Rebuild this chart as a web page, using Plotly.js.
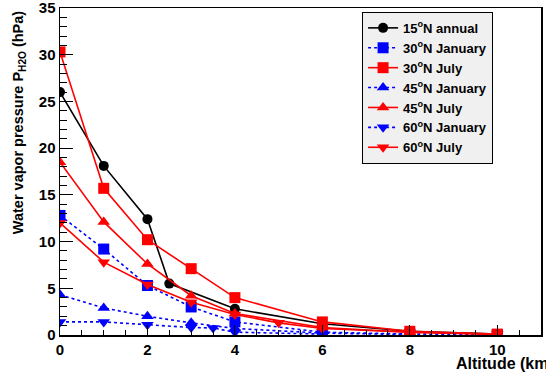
<!DOCTYPE html>
<html><head><meta charset="utf-8">
<script src="https://cdn.plot.ly/plotly-3.0.1.min.js"></script>
<style>html,body{margin:0;padding:0;background:#fff;overflow:hidden}#chart{width:546px;height:375px}</style>
</head><body><div id="chart"></div>
<script>
// Data
const x15Annual = [0, 1, 2, 2.5, 4, 6, 8, 10];
const y15Annual = [26.0, 18.1, 12.4, 5.5, 2.8, 1.2, 0.4, 0.1];

const x30Jan = [0, 1, 2, 3, 4, 6, 8, 10];
const y30Jan = [12.8, 9.2, 5.3, 3.0, 1.4, 0.3, 0.1, 0.05];

const x30Jul = [0, 1, 2, 3, 4, 6, 8, 10];
const y30Jul = [30.3, 15.7, 10.2, 7.1, 4.0, 1.4, 0.4, 0.1];

const x45Jan = [0, 1, 2, 3, 4, 6, 8];
const y45Jan = [4.3, 2.9, 2.0, 1.3, 0.7, 0.2, 0.05];

const x45Jul = [0, 1, 2, 3, 4, 6, 8, 10];
const y45Jul = [18.5, 12.1, 7.6, 4.2, 2.3, 0.8, 0.3, 0.05];

const x60Jan = [0, 1, 2, 3, 3.5, 4, 6];
const y60Jan = [1.4, 1.4, 1.1, 0.8, 0.75, 0.3, 0.1];

const x60Jul = [0, 1, 2, 3, 4, 5, 6, 8, 10];
const y60Jul = [12.0, 7.8, 5.4, 3.5, 2.2, 1.3, 0.7, 0.3, 0.1];

const names = ["15<sup>o</sup>N annual", "30<sup>o</sup>N January", "30<sup>o</sup>N July",
  "45<sup>o</sup>N January", "45<sup>o</sup>N July", "60<sup>o</sup>N January", "60<sup>o</sup>N July"];

const xTickVals = [0, 2, 4, 6, 8, 10];
const yTickVals = [0, 5, 10, 15, 20, 25, 30, 35];

const RED = "#ff0000", BLUE = "#0000ff", BLACK = "#000000";
function tr(x, y, name, color, symbol, size, dash) {
  return {x: x, y: y, name: name, type: "scatter", mode: "lines+markers",
    line: {color: color, width: 1.6, dash: dash},
    marker: {color: color, symbol: symbol, size: size}};
}
const dd = "3px,3px";
const data = [
  tr(x15Annual, y15Annual, names[0], BLACK, "circle", 10, "solid"),
  tr(x30Jan, y30Jan, names[1], BLUE, "square", 11, dd),
  tr(x30Jul, y30Jul, names[2], RED, "square", 11, "solid"),
  tr(x45Jan, y45Jan, names[3], BLUE, "triangle-up", 11, dd),
  tr(x45Jul, y45Jul, names[4], RED, "triangle-up", 11, "solid"),
  tr(x60Jan, y60Jan, names[5], BLUE, "triangle-down", 11, dd),
  tr(x60Jul, y60Jul, names[6], RED, "triangle-down", 11, "solid")
];

const F = "Liberation Sans, Arial, sans-serif";
const layout = {
  width: 546, height: 375,
  margin: {l: 60, r: 5, t: 8, b: 40, pad: 0},
  paper_bgcolor: "#fff", plot_bgcolor: "#fff",
  showlegend: true,
  font: {family: F, color: "#000", size: 14, weight: "bold"},
  xaxis: {range: [0, 11], showgrid: false, zeroline: false,
    showline: true, linecolor: "#000", linewidth: 1.5, mirror: true,
    ticks: "inside", ticklen: 10, tickcolor: "#000", tickwidth: 1,
    tickvals: xTickVals, ticktext: xTickVals.map(String), ticklabeloverflow: "allow",
    tickfont: {family: F, size: 15, weight: "bold"},
    minor: {dtick: 0.5, ticks: "inside", ticklen: 5, tickcolor: "#000", tickwidth: 1, showgrid: false}},
  yaxis: {range: [0, 35], showgrid: false, zeroline: false,
    showline: true, linecolor: "#000", linewidth: 1.5, mirror: true,
    ticks: "inside", ticklen: 13, tickcolor: "#000", tickwidth: 1,
    tickvals: yTickVals, ticktext: yTickVals.map(String), ticklabeloverflow: "allow",
    tickfont: {family: F, size: 15, weight: "bold"},
    minor: {dtick: 1, ticks: "inside", ticklen: 7, tickcolor: "#000", tickwidth: 1, showgrid: false}},
  legend: {x: 0.628, y: 0.988, xanchor: "left", yanchor: "top",
    bgcolor: "#f0f0f0", bordercolor: "#000", borderwidth: 1,
    font: {family: F, size: 13, weight: "bold"}, itemwidth: 30, tracegroupgap: 0},
  annotations: [
    {text: "Water vapor pressure P<sub>H2O</sub> (hPa)", xref: "paper", yref: "paper",
     x: -0.062, y: 1.0, xanchor: "right", yanchor: "top", textangle: -90, showarrow: false,
     font: {family: F, size: 14.5, weight: "bold"}},
    {text: "Altitude (km)", xref: "paper", yref: "paper",
     x: 0.82, y: -0.054, xanchor: "left", yanchor: "top", showarrow: false,
     font: {family: F, size: 16, weight: "bold"}}
  ]
};
Plotly.newPlot("chart", data, layout, {displayModeBar: false, staticPlot: true});
</script></body></html>
